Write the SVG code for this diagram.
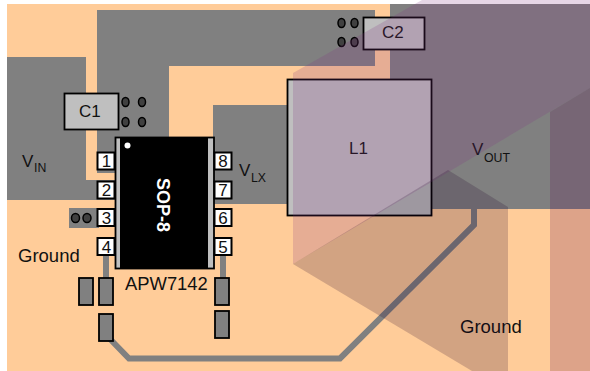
<svg xmlns="http://www.w3.org/2000/svg" width="590" height="371" viewBox="0 0 590 371">
<style>
.t{font-family:"Liberation Sans",Arial,sans-serif;fill:#111}
.m{font-size:17px}
.s{font-size:12.300px}
.p{font-size:17px;text-anchor:middle}
.g{font-size:18.500px}
.cu{fill:#808080}
.comp{fill:#bfbfbf;stroke:#000;stroke-width:1.800}
.pin{fill:#fff;stroke:#000;stroke-width:2}
.pad{fill:#808080;stroke:#000;stroke-width:1.800}
.via{fill:#404040;stroke:#000;stroke-width:1.500}
.tr{fill:none;stroke:#808080;stroke-width:6}
</style>
<rect x="7" y="4" width="583" height="367" fill="#ffcc99"/>
<g id="copper">
<polygon class="cu" points="97,10 375,10 375,66 169,66 169,137 115,137 115,173 97,173"/>
<polygon class="cu" points="7,57 86,57 86,180 115,180 115,200 7,200"/>
<polygon class="cu" points="213,105 300,105 300,204 213,204"/>
<polygon class="cu" points="390,4 590,4 590,209 420,209 420,79 390,79"/>
<rect class="cu" x="69" y="208" width="30" height="20"/>
</g>
<g id="connectors">
<polyline class="tr" points="474,209 474,225 340,358.500 129,358.500 110,339"/>
<line class="tr" x1="106" y1="256" x2="106" y2="278"/>
<line class="tr" x1="223" y1="256" x2="223" y2="278"/>
</g>
<g id="vias">
<ellipse class="via" cx="75.500" cy="218" rx="4" ry="4.500"/><ellipse class="via" cx="87" cy="218" rx="4" ry="4.500"/>
<ellipse class="via" cx="125.500" cy="102" rx="3.500" ry="4.500"/><ellipse class="via" cx="142" cy="102" rx="3.500" ry="4.500"/>
<ellipse class="via" cx="125.500" cy="122" rx="3.500" ry="4.500"/><ellipse class="via" cx="142" cy="122" rx="3.500" ry="4.500"/>
<ellipse class="via" cx="341.500" cy="23" rx="3.500" ry="4.500"/><ellipse class="via" cx="354.500" cy="23" rx="3.500" ry="4.500"/>
<ellipse class="via" cx="341.500" cy="42" rx="3.500" ry="4.500"/><ellipse class="via" cx="354.500" cy="42" rx="3.500" ry="4.500"/>
</g>
<g id="pads">
<rect class="pad" x="79" y="278" width="14" height="27"/>
<rect class="pad" x="99" y="278" width="14" height="27"/>
<rect class="pad" x="99" y="314" width="14" height="27"/>
<rect class="pad" x="215" y="278" width="14" height="27"/>
<rect class="pad" x="215" y="311" width="14" height="27"/>
</g>
<g id="C1"><rect class="comp" x="64.500" y="93.500" width="54" height="36"/><text class="t m" x="79" y="117">C1</text></g>
<g id="C2"><rect class="comp" x="363.500" y="17.500" width="61" height="32"/><text class="t m" x="382" y="38">C2</text></g>
<g id="L1"><rect class="comp" x="287.500" y="79.500" width="144" height="136"/><text class="t m" x="349" y="154">L1</text></g>
<g id="U1">
<rect x="115.500" y="137.500" width="98.500" height="131" fill="#bfbfbf" stroke="#000" stroke-width="1.800"/>
<rect x="120" y="138" width="88" height="130" fill="#000"/>
<circle cx="127.500" cy="145.500" r="3" fill="#fff"/>
<text transform="translate(156.500 178) rotate(90)" style="font-family:'Liberation Sans',Arial,sans-serif;font-weight:700;font-size:18px;fill:#fff">SOP-8</text>
<text class="t" x="125" y="290" style="font-size:18.400px">APW7142</text>
</g>
<g id="pin1"><rect class="pin" x="97.500" y="152.500" width="17" height="17"/><text class="t p" x="106.500" y="167">1</text></g>
<g id="pin2"><rect class="pin" x="97.500" y="181.500" width="17" height="17"/><text class="t p" x="106.500" y="196">2</text></g>
<g id="pin3"><rect class="pin" x="97.500" y="209" width="17" height="17"/><text class="t p" x="106.500" y="223.500">3</text></g>
<g id="pin4"><rect class="pin" x="97.500" y="238" width="17" height="17"/><text class="t p" x="106.500" y="252.500">4</text></g>
<g id="pin8"><rect class="pin" x="214.500" y="152.500" width="17" height="17"/><text class="t p" x="223" y="167">8</text></g>
<g id="pin7"><rect class="pin" x="214.500" y="181.500" width="17" height="17"/><text class="t p" x="223" y="196">7</text></g>
<g id="pin6"><rect class="pin" x="214.500" y="209" width="17" height="17"/><text class="t p" x="223" y="223.500">6</text></g>
<g id="pin5"><rect class="pin" x="214.500" y="238" width="17" height="17"/><text class="t p" x="223" y="252.500">5</text></g>
<g id="labels">
<text class="t m" x="22" y="167">V</text><text class="t s" x="34" y="172">IN</text>
<text class="t m" x="239" y="176">V</text><text class="t s" x="251" y="182">LX</text>
<text class="t m" x="472" y="155">V</text><text class="t s" x="484" y="162">OUT</text>
<text class="t g" x="18" y="262">Ground</text>
<text class="t g" x="460" y="333">Ground</text>
</g>
<g id="overlays">
<polygon points="422,0 590,0 590,88 293,264 293,73" fill="#803380" fill-opacity=".2"/>
<polygon points="448,170 508,207 508,371 472,371 293,264" fill="#1e0028" fill-opacity=".2"/>
<polygon points="550,112 590,88 590,371 550,371" fill="#55004b" fill-opacity=".2"/>
</g>
</svg>
